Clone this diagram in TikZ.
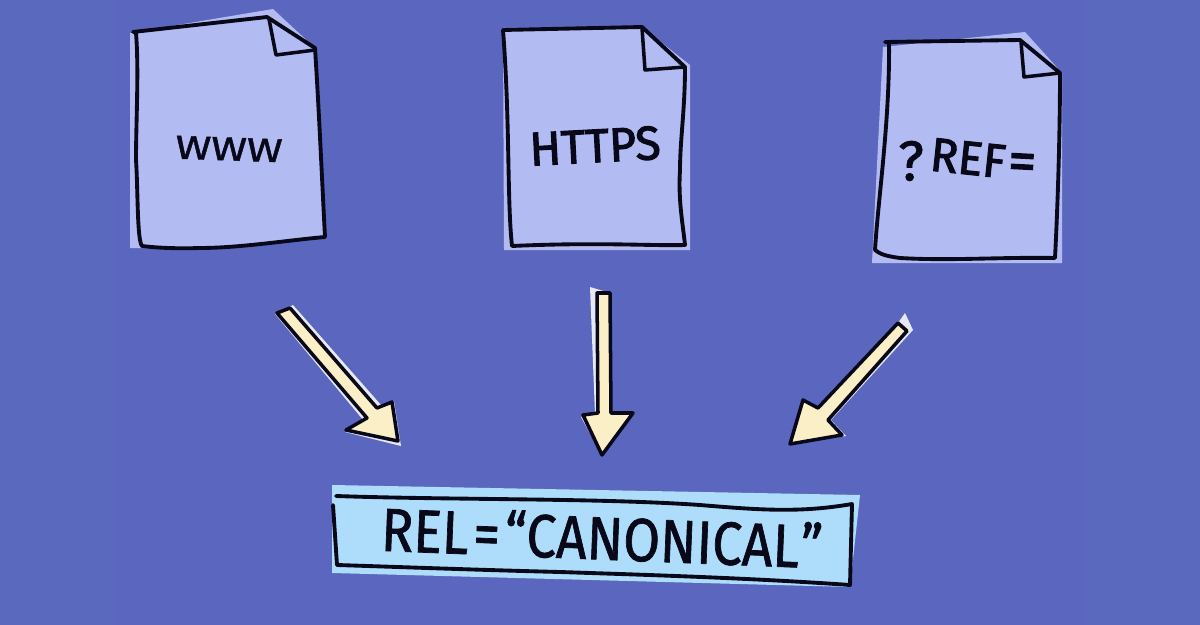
\documentclass[tikz,border=0pt]{standalone}
\usepackage{fontspec}
\setmainfont{Fira Sans}
\newfontfamily\semifont[FakeBold=1.2]{Fira Sans}
\newfontfamily\semiboldfont[FakeBold=2.2]{Fira Sans}
\definecolor{bg}{HTML}{5B67BF}
\definecolor{bgs}{HTML}{5A69BE}
\definecolor{paper}{HTML}{B3BCF2}
\definecolor{banner}{HTML}{ADDDFA}
\definecolor{cream}{HTML}{FBEFC8}
\definecolor{fringe}{HTML}{E6E8F4}
\definecolor{ink}{HTML}{080818}
\tikzset{
  inkline/.style={draw=ink,line width=2.2pt,line join=round,line cap=round},
  thinfold/.style={inkline,line width=2pt},
  papersheet/.style={fill=paper},
  bannersheet/.style={fill=banner},
  arrowback/.style={fill=fringe},
  arrowbody/.style={inkline,fill=cream,line width=2pt},
  label/.style={text=ink,inner sep=0pt,transform shape},
}
\newcommand{\fs}[1]{\fontsize{#1}{#1}\selectfont}
\begin{document}
\begin{tikzpicture}[x=0.02cm,y=-0.02cm]
\useasboundingbox (0,0) rectangle (1200,625);
\fill[bg] (0,0) rectangle (1200,625);
\fill[bgs] (0,0) rectangle (115,625);
\fill[bgs] (1083,0) rectangle (1200,625);
% sheet 1
\fill[papersheet] (130,33) -- (273,9) -- (315,48) -- (326,237) -- (203,248) -- (130,248) -- cycle;
\draw[inkline] (133,32) -- (267,17) -- (315,48) .. controls (319,110) and (322,180) .. (325,237)
  .. controls (290,240) and (240,248) .. (200,248) .. controls (170,249) and (150,247) .. (142,246)
  .. controls (137,240) and (138,190) .. (136,160) .. controls (136,120) and (139,70) .. (136,33);
\draw[thinfold] (269,19) -- (276,55) -- (315,50);
\node[label,rotate=-2] (t1) at (229,149) {\semifont\fs{21}\scalebox{1.17}[0.9]{WWW}};
% sheet 2
\fill[papersheet] (503,28) -- (643,28) -- (690,65) -- (690,250) -- (504,250) -- cycle;
\draw[inkline] (503,30) -- (642,27) -- (685,67) .. controls (685,110) and (680,140) .. (680,170)
  .. controls (678,200) and (683,225) .. (685,245) .. controls (650,246) and (600,242) .. (512,246)
  .. controls (507,200) and (510,120) .. (503,30);
\draw[thinfold] (642,28) -- (645,70) -- (685,67);
\node[label,rotate=3] (t2) at (595,146) {\semiboldfont\fs{27}\scalebox{0.98}[1]{HTTPS}};
% sheet 3
\fill[papersheet] (883,47) -- (1025,32) -- (1062,73) -- (1062,263) -- (872,263) -- cycle;
\draw[inkline] (885,42) -- (1020,40) -- (1060,73) .. controls (1060,130) and (1058,200) .. (1055,258)
  .. controls (1000,257) and (950,261) .. (900,258) .. controls (885,256) and (880,254) .. (875,250)
  .. controls (878,200) and (890,120) .. (889,42);
\draw[thinfold] (1021,42) -- (1024,77) -- (1060,73);
\node[label] (t3a) at (911,161) {\semifont\fs{32}?};
\node[label,rotate=-6] (t3b) at (968,158) {\semiboldfont\fs{27}\scalebox{0.97}[1]{REF}};
\node[label,rotate=-3] (t3c) at (1022,167) {\semiboldfont\fs{32}=};
% arrow 1
\fill[arrowback] (275,314) -- (293,305) -- (381,405) -- (394,401) -- (401,446) -- (345,432) -- (364,421) -- cycle;
\draw[arrowbody] (277,313) -- (290,308) -- (377,408) -- (392,402) -- (398,441) -- (346,430) -- (367,418) -- cycle;
% arrow 2
\fill[arrowback] (590,287) -- (610,293) -- (611,413) -- (633,413) -- (602,456) -- (581,417) -- (595,414) -- cycle;
\draw[arrowbody] (597,293) -- (610,293) -- (611,413) -- (633,413) -- (602,455) -- (583,415) -- (598,413) -- cycle;
% arrow 3
\fill[arrowback] (898,323) -- (905,313) -- (913,330) -- (831,420) -- (846,436) -- (790,444) -- (803,400) -- (818,408) -- cycle;
\draw[arrowbody] (898,323) -- (907,331) -- (828,420) -- (842,435) -- (790,444) -- (803,400) -- (818,408) -- cycle;
% banner
\fill[bannersheet] (332,485) -- (860,495) -- (850,587) -- (332,573) -- cycle;
\draw[inkline] (336,496) .. controls (450,500) and (600,498) .. (700,505)
  .. controls (760,510) and (800,513) .. (852,504) -- (850,585)
  .. controls (750,578) and (650,575) .. (560,572) .. controls (480,570) and (400,567) .. (337,565) -- (333,505);
\node[label,rotate=-2.3] (t4) at (602,537) {\semifont\fs{33}\scalebox{0.92}[1.05]{REL\kern3pt=\kern3pt“CANONICAL\kern1pt”}};
\end{tikzpicture}
\end{document}
